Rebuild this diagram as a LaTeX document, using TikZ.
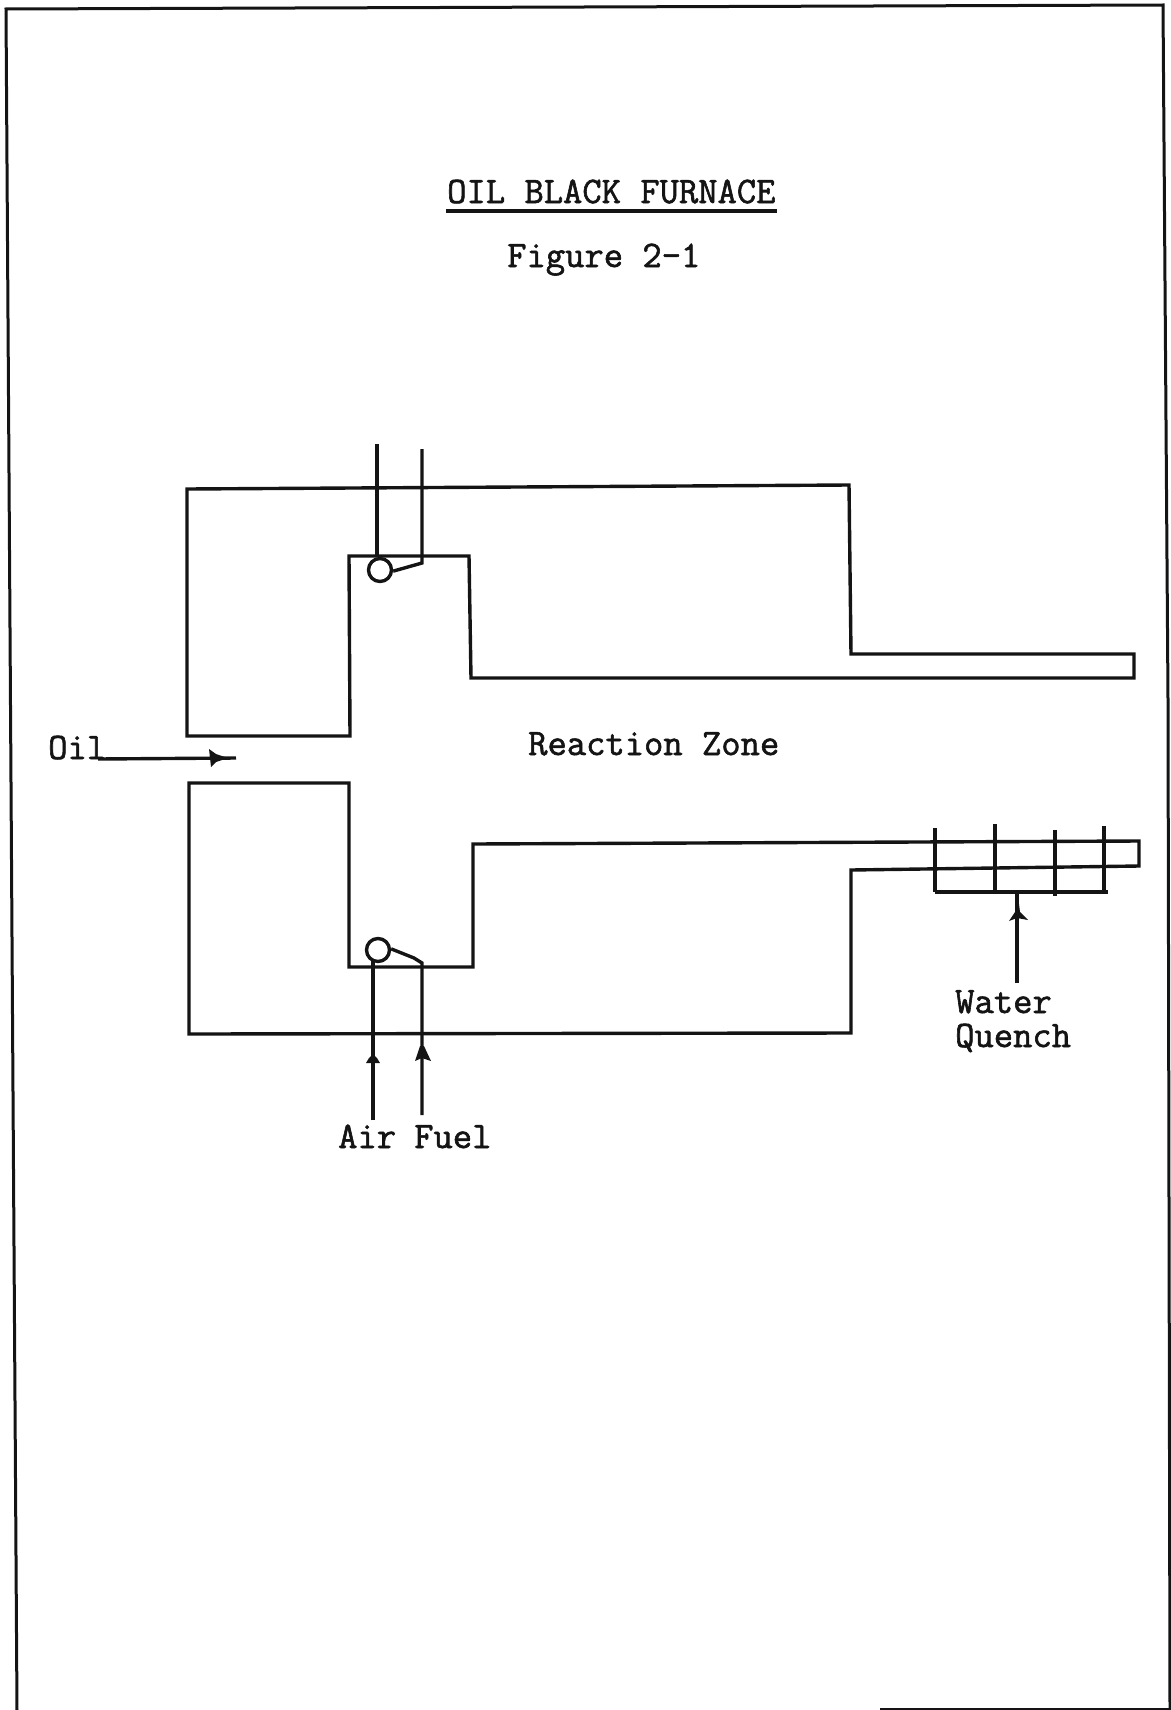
\documentclass[tikz,border=0pt]{standalone}
\usepackage{fontspec}
\usetikzlibrary{arrows.meta}
\newfontfamily\typew[FakeBold=1.6]{Latin Modern Mono}
\tikzset{
  wall/.style={line width=3.4pt,line join=miter,black!92},
  pipe/.style={line width=3.4pt,black!92},
  frame/.style={line width=3pt,black!92},
  tiphead/.style={fill=black!92},
  lab/.style={inner sep=0pt,anchor=base west,font=\typew\fontsize{37.5}{40}\selectfont,text=black!92}
}
\begin{document}
\begin{tikzpicture}[x=1pt,y=-1pt]
\useasboundingbox (0,0) rectangle (1170,1710);
\draw[frame] (17,1710) -- (6,9) -- (1163,5) -- (1168,700) -- (1170,1710);
\draw[frame] (880,1709) -- (1170,1709);
% labels
\node[lab] (title) at (447,203) {OIL BLACK FURNACE};
\draw[line width=4pt,black!92] (446,211) -- (777,211);
\node[lab] (figure) at (507,267) {Figure 2-1};
\node[lab] (zone) at (528,755) {Reaction Zone};
\node[lab] (oil) at (48,759) {Oil};
\node[lab] (air) at (338,1148) {Air};
\node[lab] (fuel) at (414,1148) {Fuel};
\node[lab] (water) at (955,1013) {Water};
\node[lab] (quench) at (955,1047) {Quench};
% upper wall
\draw[wall] (187,489) -- (849,485) -- (851,654) -- (1134,654) -- (1134,678)
  -- (471,678) -- (469,556) -- (349,556) -- (350,736) -- (187,736) -- cycle;
% lower wall
\draw[wall] (189,783) -- (349,783) -- (349,967) -- (473,967) -- (473,844)
  -- (1139,841) -- (1139,866) -- (851,870) -- (851,1033) -- (189,1034) -- cycle;
% upper burner
\node[circle,draw,line width=3.4pt,black!92,minimum size=23pt,inner sep=0pt] (ctop) at (380,570) {};
\coordinate (t1) at (377,444);
\coordinate (t2) at (422,449);
\coordinate (t2b) at (422,563);
\draw[pipe] (t1) -- (377,557);
\draw[pipe] (t2) -- (t2b) -- (ctop.-5);
% lower burner
\node[circle,draw,line width=3.4pt,black!92,minimum size=23pt,inner sep=0pt] (cbot) at (378,950) {};
\coordinate (a0) at (373,1120);
\coordinate (f0) at (422,1115);
\coordinate (fb) at (422,963);
\draw[pipe] (a0) -- (373,960);
\draw[pipe] (f0) -- (fb) -- (414,958) -- (cbot.5);
\fill[tiphead] (366,1063) -- (369,1058) -- (373,1054) -- (377,1058) -- (380,1063) -- cycle;
\fill[tiphead] (415,1061) -- (420,1046) -- (424,1046) -- (431,1061) -- (422,1058) -- cycle;
% oil
\coordinate (o0) at (98,759);
\coordinate (o1) at (236,758);
\draw[pipe] (o0) -- (o1);
\fill[tiphead] (209,749) -- (216,754) -- (228,758) -- (216,762) -- (211,767) -- cycle;
% quench
\draw[pipe] (935,828) -- (935,892);
\draw[pipe] (995,824) -- (995,893);
\draw[pipe] (1055,830) -- (1055,896);
\draw[pipe] (1104,826) -- (1104,892);
\draw[pipe] (935,892) -- (1108,892);
\coordinate (w0) at (1017,983);
\draw[pipe] (w0) -- (1017,892);
\fill[tiphead] (1009,921) -- (1015,912) -- (1016,904) -- (1019,904) -- (1020,912) -- (1028,920) -- (1017,918) -- cycle;
\end{tikzpicture}
\end{document}
